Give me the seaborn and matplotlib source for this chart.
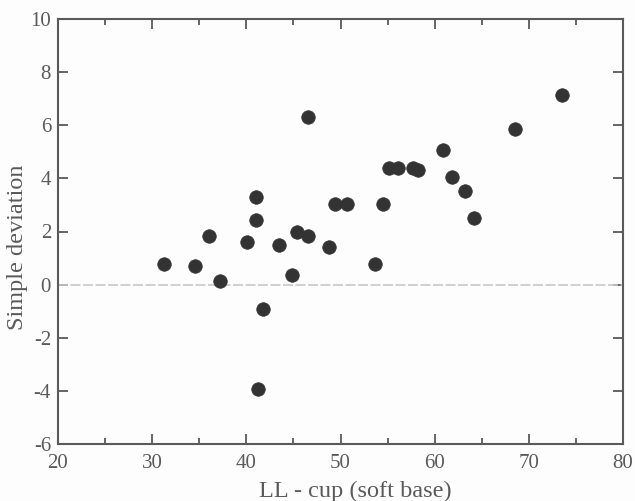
import matplotlib
matplotlib.use("Agg")
import matplotlib.pyplot as plt
from matplotlib.ticker import MultipleLocator
import seaborn as sns
import pandas as pd

x_vals = [31.3, 34.6, 36.0, 37.2, 40.1, 41.0, 41.0, 41.2, 41.8, 43.5, 44.8, 45.4,
          46.5, 46.5, 48.8, 49.4, 50.7, 53.7, 54.5, 55.1, 56.1, 57.7, 58.2, 60.9,
          61.8, 63.2, 64.2, 68.5, 73.5]
y_vals = [0.78, 0.70, 1.83, 0.13, 1.60, 3.30, 2.43, -3.93, -0.92, 1.49, 0.36, 2.00,
          1.83, 6.31, 1.42, 3.03, 3.03, 0.78, 3.03, 4.39, 4.39, 4.39, 4.31, 5.07,
          4.05, 3.52, 2.51, 5.86, 7.14]

df = pd.DataFrame({"x": x_vals, "y": y_vals})

sns.set_theme(style="ticks")
plt.rcParams["font.family"] = ["Liberation Serif", "DejaVu Serif"]
plt.rcParams["axes.unicode_minus"] = False

gray = "#5a5a5a"
fig = plt.figure(figsize=(6.35, 5.01), dpi=100)
ax = fig.add_axes([58/635, 1 - 444/501, (623-58)/635, (444-19)/501])
fig.patch.set_facecolor("#fdfdfd")
ax.set_facecolor("#fdfdfd")

ax.axhline(0, color="#c8c8c8", lw=1.2, ls=(0, (6, 1.5)), zorder=1)
sns.scatterplot(data=df, x="x", y="y", ax=ax, s=95, color="#333333",
                edgecolor="#333333", linewidth=0.5, zorder=3)

ax.set_xlim(20, 80)
ax.set_ylim(-6, 10)
ax.xaxis.set_major_locator(MultipleLocator(10))
ax.xaxis.set_minor_locator(MultipleLocator(5))
ax.yaxis.set_major_locator(MultipleLocator(2))
ax.tick_params(which="both", direction="in", top=True, right=True, color=gray,
               labelcolor=gray, labelsize=15, width=1.3)
ax.tick_params(which="major", length=7)
ax.tick_params(which="minor", length=4)
ax.tick_params(axis="x", pad=7)
ax.tick_params(axis="y", pad=5)
for sp in ax.spines.values():
    sp.set_color(gray)
    sp.set_linewidth(1.5)
    sp.set_visible(True)

ax.set_xlabel("LL - cup (soft base)", color=gray, fontsize=17.5)
ax.set_ylabel("Simple deviation", color=gray, fontsize=17.5)
ax.xaxis.label.set_va("center")
ax.yaxis.label.set_va("center")
ax.xaxis.set_label_coords((355-58)/565, -(491-444)/425)
ax.yaxis.set_label_coords((18-58)/565, (444-247)/425)

fig.savefig("out.png", dpi=100, facecolor=fig.get_facecolor())
